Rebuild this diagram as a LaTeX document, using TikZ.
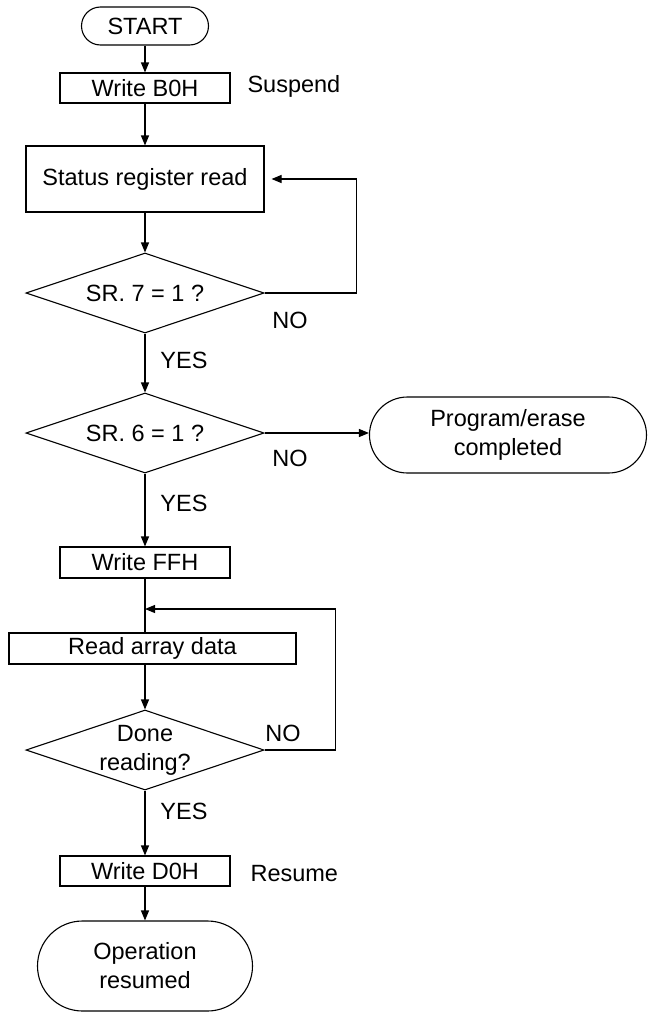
\documentclass[tikz,border=0pt]{standalone}
\usepackage{fontspec}
\setmainfont{Liberation Sans}
\usetikzlibrary{shapes.geometric,arrows.meta}
\begin{document}
\begin{tikzpicture}[x=1pt,y=-1pt,line width=1.1pt,
  every node/.style={font=\fontsize{23.5}{29}\selectfont},
  procbox/.style={draw,rectangle,inner sep=0pt,align=center},
  termbox/.style={draw,rectangle,inner sep=0pt,align=center},
  decbox/.style={draw,diamond,inner sep=-2pt,aspect=2.975,minimum width=238pt,minimum height=80pt,align=center},
  lbl/.style={inner sep=0pt,anchor=center},
  arr/.style={-{Triangle[length=10pt,width=8pt]}}]
\useasboundingbox (0,0) rectangle (648,1012);

\node[termbox,rounded corners=19pt,minimum width=127pt,minimum height=38pt] (start) at (145,26) {START};
\node[procbox,minimum width=170pt,minimum height=30pt] (wb0) at (145,88) {Write B0H};
\node[lbl,anchor=west] (susp) at (247,86) {Suspend};
\node[procbox,minimum width=238pt,minimum height=66pt] (srr) at (145,179) {Status register read};
\node[decbox] (d7) at (145,293) {SR. 7 = 1 ?};
\node[lbl] (no1) at (290,320) {NO};
\node[lbl] (yes1) at (184,360) {YES};
\node[decbox] (d6) at (145,433) {SR. 6 = 1 ?};
\node[termbox,rounded corners=38pt,minimum width=277pt,minimum height=76pt] (pe) at (508,435) {Program/erase\\completed};
\node[lbl] (no2) at (290,458) {NO};
\node[lbl] (yes2) at (184,503) {YES};
\node[procbox,minimum width=170pt,minimum height=31pt] (wff) at (145,562.5) {Write FFH};
\coordinate (junc) at (145,609);
\node[procbox,minimum width=287pt,minimum height=31pt] (rad) at (152.5,648.5) {Read array data};
\node[decbox] (d3) at (145,750) {Done\\reading?};
\node[lbl] (no3) at (283,733) {NO};
\node[lbl] (yes3) at (184,811) {YES};
\node[procbox,minimum width=170pt,minimum height=30pt] (wd0) at (145,871) {Write D0H};
\node[lbl,anchor=west] (res) at (250,874) {Resume};
\node[termbox,rounded corners=45pt,minimum width=215pt,minimum height=90pt] (op) at (145,966) {Operation\\resumed};

\draw[arr] (start) -- (wb0);
\draw[arr] (wb0) -- (srr);
\draw[arr] (srr) -- (d7);
\draw[arr] (d7.east) -- ++(92,0) |- ([xshift=7pt]srr.east);
\draw[arr] (d7) -- (d6);
\draw[arr] (d6.east) -- (d6.east -| pe.west);
\draw[arr] (d6) -- (wff);
\draw (wff.south) -- (wff.south |- rad.north);
\draw[arr] (rad.south -| d3.north) -- (d3.north);
\draw[arr] (d3.east) -- ++(71,0) |- (junc);
\draw[arr] (d3) -- (wd0);
\draw[arr] (wd0) -- (op);
\end{tikzpicture}
\end{document}
